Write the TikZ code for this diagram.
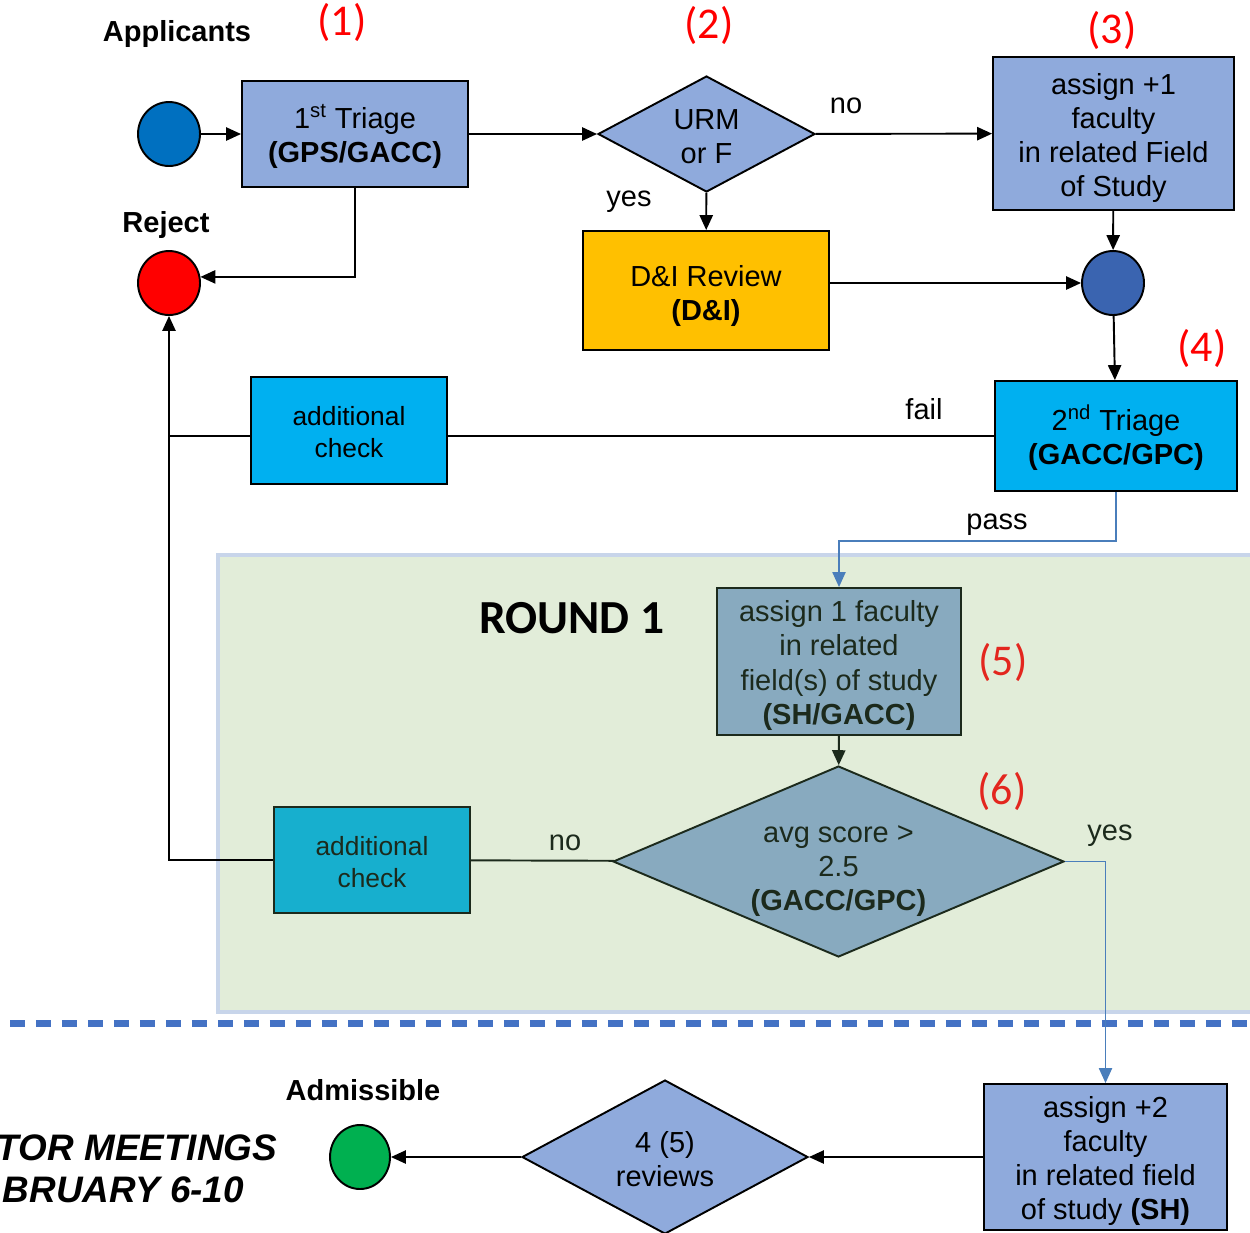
\documentclass[tikz,border=0pt]{standalone}
\usepackage{fontspec}
\setmainfont{Liberation Sans}
\newfontfamily\calfont{Carlito}
\usetikzlibrary{shapes.geometric, arrows.meta, calc, positioning}

\definecolor{boxblue}{HTML}{8FAADC}
\definecolor{startblue}{HTML}{0070C0}
\definecolor{joinblue}{HTML}{3A64B0}
\definecolor{checkcyan}{HTML}{00B0F0}
\definecolor{checkteal}{HTML}{17AFCE}
\definecolor{dnigold}{HTML}{FFC000}
\definecolor{roundgreen}{HTML}{E2EDD9}
\definecolor{roundedge}{HTML}{C8D5EA}
\definecolor{roundbox}{HTML}{88AABF}
\definecolor{roundink}{HTML}{1C2A1C}
\definecolor{passline}{HTML}{4A7EBB}
\definecolor{cutline}{HTML}{4472C4}
\definecolor{stepred}{HTML}{FF0000}
\definecolor{stepredtwo}{HTML}{E3261E}
\definecolor{admgreen}{HTML}{00B050}

% raise the first line of a node text a little
\newcommand{\nodelift}[1]{\rule{0pt}{#1}}

\begin{document}
\begin{tikzpicture}[x=0.02cm, y=-0.02cm, >={Stealth[length=8.5pt,width=7.5pt,inset=0pt]},
    line width=1.1pt, font=\fontsize{16.5}{19.4}\selectfont,
    box/.style={draw, rectangle, align=center, inner sep=2pt, fill=boxblue},
    choice/.style={draw, diamond, align=center, inner sep=0pt, fill=boxblue},
    dot/.style={draw, ellipse, inner sep=0pt},
    tag/.style={text=stepred, font=\calfont\fontsize{25}{25}\selectfont},
    lbl/.style={inner sep=0pt},
    flow/.style={->, passline, line width=0.8pt}]

            \useasboundingbox (0,0) rectangle (1250,1232);
            \clip (0,0) rectangle (1250,1232);

            % Round 1 area and cut line
            \fill[roundgreen, draw=roundedge, line width=2pt] (218,555) rectangle (1260,1012);
            \draw[cutline, line width=0.14cm, dash pattern=on 0.3cm off 0.22cm] (10,1023) -- (1260,1023);
            \node[lbl, font=\calfont\bfseries\fontsize{27}{30}\selectfont] (round) at (572,618) {ROUND 1};

            % Labels and step numbers
            \node[lbl, font=\bfseries\fontsize{16.5}{19.4}\selectfont] (applab) at (177,34) {Applicants};
            \node[lbl, font=\bfseries\fontsize{16.5}{19.4}\selectfont] (rejlab) at (166,225) {Reject};
            \node[lbl, font=\bfseries\fontsize{16.5}{19.4}\selectfont] (admlab) at (363,1090) {Admissible};
            \node[tag] (n1) at (342,22) {(1)};
            \node[tag] (n2) at (709,25) {(2)};
            \node[tag] (n3) at (1112,30) {(3)};
            \node[tag] (n4) at (1202,348) {(4)};
            \node[tag, text=stepredtwo] (n5) at (1003,662) {(5)};
            \node[tag, text=stepredtwo] (n6) at (1002,791) {(6)};
            \node[lbl, anchor=east, font=\bfseries\itshape\fontsize{21}{25}\selectfont] (mtg1) at (278,1148) {TOR MEETINGS};
            \node[lbl, anchor=east, font=\bfseries\itshape\fontsize{21}{25}\selectfont] (mtg2) at (245,1190) {BRUARY 6-10};

            % Steps
            \node[dot, fill=startblue, minimum width=1.24cm, minimum height=1.28cm] (start) at (169,134) {};
            \node[dot, fill=red, minimum width=1.24cm, minimum height=1.28cm] (reject) at (169,283) {};
            \node[box, minimum width=4.52cm, minimum height=2.12cm] (t1) at (355,134) {\nodelift{17pt}1\textsuperscript{st} Triage\\\textbf{(GPS/GACC)}};
            \node[choice, minimum width=4.34cm, minimum height=2.32cm, aspect=1.87] (urm) at (706.5,134) {\nodelift{14.5pt}URM\\or F};
            \node[box, minimum width=4.82cm, minimum height=3.06cm] (a3) at (1113.5,133.5) {\nodelift{17pt}assign +1\\faculty\\in related Field\\of Study};
            \node[box, fill=dnigold, minimum width=4.92cm, minimum height=2.38cm] (di) at (706,290.5) {\nodelift{18pt}D\&I Review\\\textbf{(D\&I)}};
            \node[dot, fill=joinblue, minimum width=1.24cm, minimum height=1.28cm] (merge) at (1113,283) {};
            \node[box, fill=checkcyan, minimum width=4.84cm, minimum height=2.2cm] (t2) at (1116,436) {\nodelift{16pt}2\textsuperscript{nd} Triage\\\textbf{(GACC/GPC)}};
            \node[box, fill=checkcyan, minimum width=3.92cm, minimum height=2.14cm, font=\fontsize{15}{18.1}\selectfont] (chk1) at (349,430.5) {\nodelift{12.5pt}additional\\check};
            \node[box, fill=roundbox, draw=roundink, text=roundink, minimum width=4.88cm, minimum height=2.94cm] (b5) at (839,661.5) {\nodelift{16.5pt}assign 1 faculty\\in related\\field(s) of study\\\textbf{(SH/GACC)}};
            \node[choice, fill=roundbox, draw=roundink, text=roundink, minimum width=9.02cm, minimum height=3.82cm, aspect=2.36] (d6) at (838.5,861.5) {\nodelift{20pt}avg score >\\2.5\\\textbf{(GACC/GPC)}};
            \node[box, fill=checkteal, draw=roundink, text=roundink, minimum width=3.92cm, minimum height=2.12cm, font=\fontsize{15}{18.1}\selectfont] (chk2) at (372,860) {\nodelift{13pt}additional\\check};
            \node[box, minimum width=4.86cm, minimum height=2.92cm] (a2) at (1105.5,1157) {\nodelift{16.5pt}assign +2\\faculty\\in related field\\of study \textbf{(SH)}};
            \node[choice, minimum width=5.72cm, minimum height=3.08cm, aspect=1.86] (rev) at (665,1157) {\nodelift{14.5pt}4 (5)\\reviews};
            \node[dot, fill=admgreen, minimum width=1.2cm, minimum height=1.28cm] (adm) at (360,1157) {};

            % Connections
            \draw[->] (start) -- (t1);
            \draw[->] (t1) -- (urm);
            \draw[->] (t1.south) |- (reject.11);
            \draw[->] (urm) -- (a3);
            \draw[->] (urm) -- (di);
            \draw[->] (a3) -- (merge);
            \draw[->] (di.east |- merge) -- (merge);
            \draw[->] (merge) -- (t2);
            \draw (t2.west) -- (chk1.east |- t2.west);
            \draw (chk1.west |- t2.west) -- (reject |- t2.west);
            \draw[flow] (t2.south) -- ++(0,49) -| (b5.north);
            \draw[->, roundink] (b5) -- (d6);
            \draw[roundink] (d6) -- (chk2);
            \draw[->] (chk2.west) -| (reject.south);
            \draw[flow] (d6.east) -| (a2.north);
            \draw[->] (a2) -- (rev);
            \draw[->] (rev) -- (adm);

            % Connector labels
            \node[lbl] (lno) at (846,106) {no};
            \node[lbl] (lyes) at (629,202) {yes};
            \node[lbl] (lfail) at (924,409) {fail};
            \node[lbl] (lpass) at (997,525) {pass};
            \node[lbl, text=roundink] (lno2) at (565,843) {no};
            \node[lbl, text=roundink] (lyes2) at (1110,836) {yes};

        \end{tikzpicture}
\end{document}
